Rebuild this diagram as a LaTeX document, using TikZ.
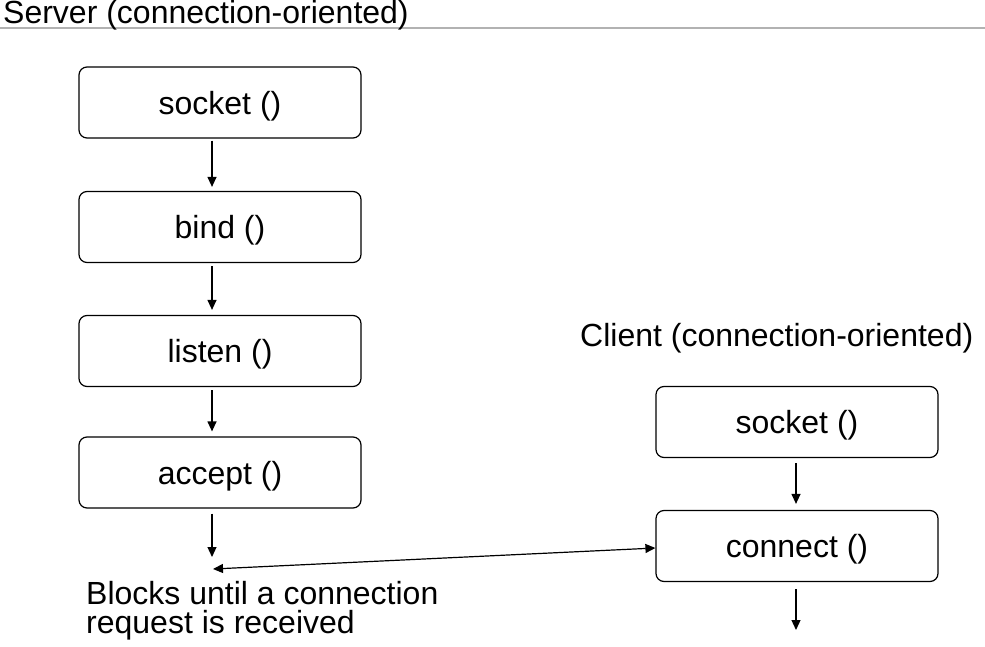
\documentclass[tikz,border=0pt]{standalone}
\usepackage{fontspec}
\setmainfont{Liberation Sans}
\usetikzlibrary{arrows.meta}
\begin{document}
\begin{tikzpicture}[x=1pt,y=-1pt,
  box/.style={draw, line width=1.2pt, rounded corners=8pt, minimum width=282pt, minimum height=71pt, inner sep=0pt, text depth=0pt, font=\fontsize{32}{36}\selectfont},
  lbl/.style={inner sep=0pt, font=\fontsize{32}{36}\selectfont},
  arr/.style={line width=1.2pt, -{Triangle[length=10pt,width=9pt]}},
  darr/.style={line width=1.2pt, {Triangle[length=10pt,width=9pt]}-{Triangle[length=10pt,width=9pt]}}]
\useasboundingbox (0,0) rectangle (985,647);
\draw[line width=1.5pt, black!30] (0,28) -- (985,28);
\node[lbl, anchor=base west] (stitle) at (3,24) {Server (connection-oriented)};
\node[box] (s1) at (220,102.5) {socket ()};
\node[box] (s2) at (220,227) {bind ()};
\node[box] (s3) at (220,351) {listen ()};
\node[box] (s4) at (220,472.5) {accept ()};
\node[lbl, anchor=base west] (ctitle) at (580,346) {Client (connection-oriented)};
\node[box] (c1) at (797,422) {socket ()};
\node[box] (c2) at (797,546) {connect ()};
\node[lbl, anchor=base west, align=left, font=\fontsize{32}{29}\selectfont] (cap) at (86,633) {Blocks until a connection\\request is received};
\coordinate (blk) at (212,557);
\coordinate (blk2) at (213,569);
\coordinate (cend) at (796,630);
\draw[arr] ([xshift=-8pt,yshift=-2pt]s1.south) -- ([xshift=-8pt,yshift=4pt]s2.north);
\draw[arr] ([xshift=-8pt,yshift=-3pt]s2.south) -- ([xshift=-8pt,yshift=5pt]s3.north);
\draw[arr] ([xshift=-8pt,yshift=-3pt]s3.south) -- ([xshift=-8pt,yshift=5pt]s4.north);
\draw[arr] ([xshift=-8pt,yshift=-5pt]s4.south) -- (blk);
\draw[arr] ([xshift=-1pt,yshift=-5pt]c1.south) -- ([xshift=-1pt,yshift=6pt]c2.north);
\draw[arr] ([xshift=-1pt,yshift=-7pt]c2.south) -- (cend);
\draw[darr] (blk2) -- ([yshift=-2pt]c2.west);
\end{tikzpicture}
\end{document}
